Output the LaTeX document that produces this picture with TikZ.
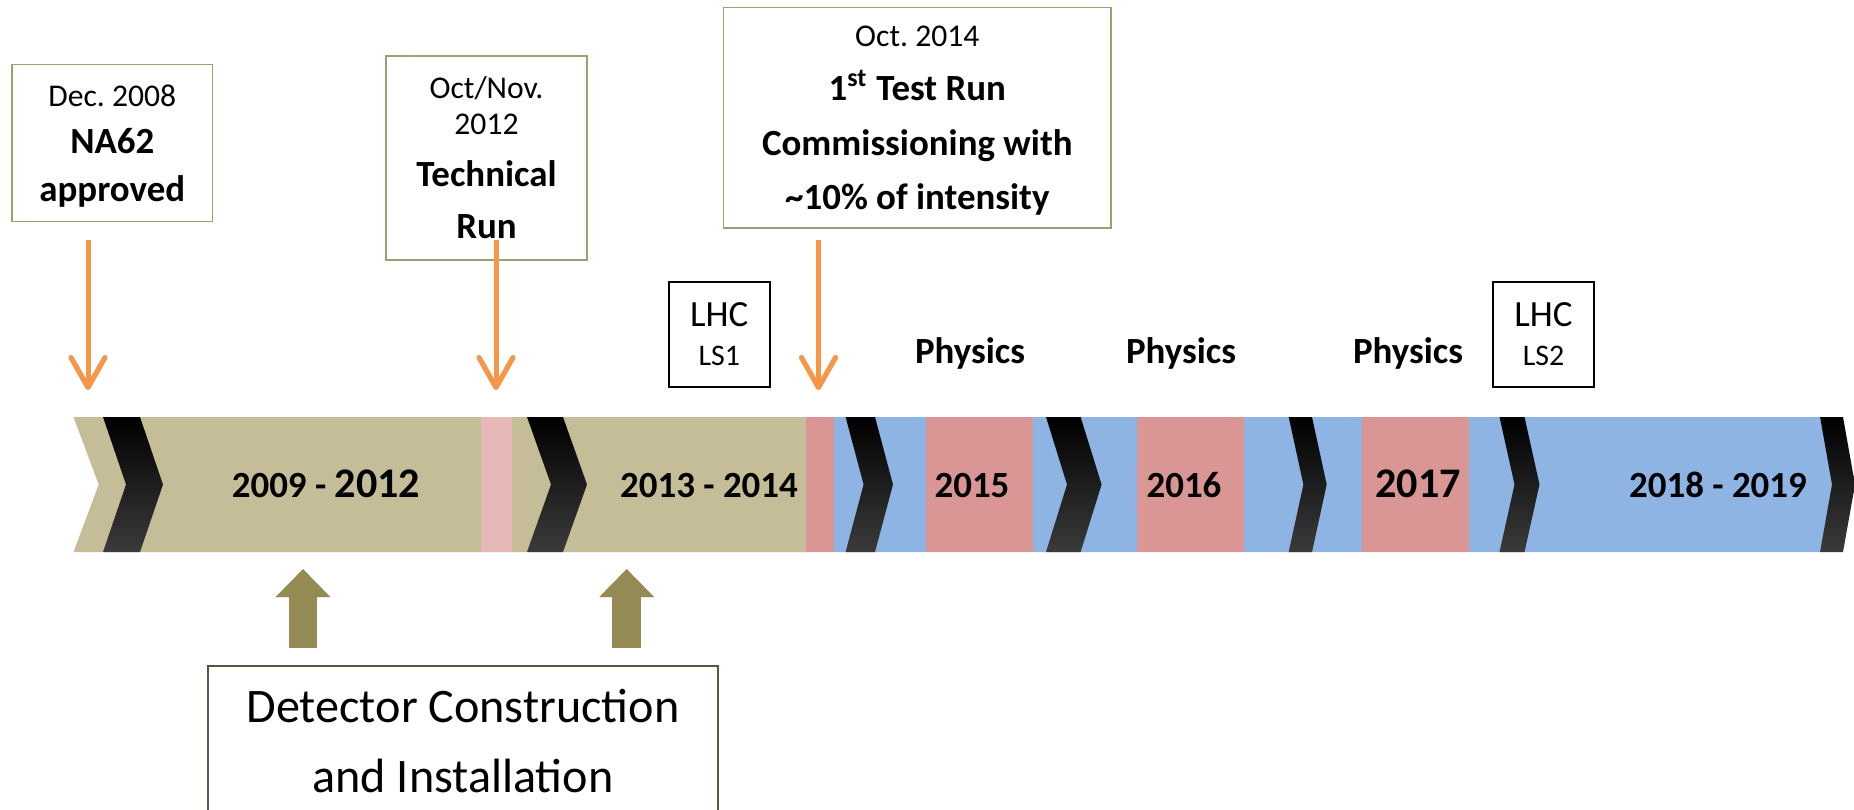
\documentclass[tikz,border=0pt]{standalone}
\usepackage{fontspec}
\setmainfont{Carlito}
\usetikzlibrary{arrows.meta}
\frenchspacing
\definecolor{bandtan}{HTML}{C4BD97}
\definecolor{bandblue}{HTML}{8EB4E3}
\definecolor{runpink}{HTML}{E6B9B8}
\definecolor{runred}{HTML}{D99694}
\definecolor{markorange}{HTML}{F79646}
\definecolor{buildolive}{HTML}{948A54}
\definecolor{boxolive}{HTML}{A49C72}
\definecolor{detline}{HTML}{5A563C}
\newcommand{\datepart}[2][5.8pt]{{\mdseries\fontsize{9}{11}\selectfont\rule{0pt}{#1}#2}}

\begin{document}
\begin{tikzpicture}[x=0.1mm,y=-0.1mm,
  datebox/.style={draw=boxolive,line width=0.4pt,inner sep=0pt,align=center,font=\fontsize{10.5}{14.8}\selectfont\bfseries},
  lsbox/.style={draw=black,line width=0.6pt,minimum width=10.05mm,minimum height=10.5mm,inner sep=0pt,align=center,font=\fontsize{10.5}{11.2}\selectfont},
  yearlabel/.style={anchor=base,inner sep=0pt,font=\fontsize{10.5}{12}\selectfont\bfseries},
  physlabel/.style={anchor=base,inner sep=0pt,font=\fontsize{10.5}{12}\selectfont\bfseries},
  markarrow/.style={markorange,line width=0.5mm,-{Straight Barb[length=3mm,width=3.4mm,round]}},
  buildarrow/.style={buildolive,line width=2.85mm,-{Triangle[length=2.8mm,width=5.3mm]}},
  arrowshadow/.style={black,opacity=0.22,shift={(2,6)}}]
  \useasboundingbox (0,0) rectangle (1854,809);
  \clip (0,0) rectangle (1854,809);
  \fill[bandblue] (802,417) -- (1820,417) -- (1833,484.5) -- (1820,552) -- (802,552) -- cycle;
  \fill[bandtan] (73.5,417) -- (806,417) -- (806,552) -- (73.5,552) -- (98.7,484.5) -- cycle;
  \fill[runpink] (481,417) rectangle (512,552);
  \foreach \a/\b in {806/834,925.6/1032.7,1137/1243.5,1362/1469}
    \fill[runred] (\a,417) rectangle (\b,552);
  \foreach \x/\w/\d in {103/37/23,527/36/24,845.6/29.4/18,1046/34.6/21,1288.7/23.3/14.7,1499.5/25/15,1820/23/12}
    \shade[top color=black,bottom color=black!77] (\x,417) -- ++(\w,0) -- ++(\d,67.5) -- ++(-\d,67.5) -- ++(-\w,0) -- ++(\d,-67.5) -- cycle;
  \node[yearlabel] (y0912) at (326,497.5) {2009 - {\fontsize{12}{14}\selectfont 2012}};
  \node[yearlabel] (y1314) at (709,497.5) {2013 - 2014};
  \node[yearlabel] (y15) at (972,497.5) {2015};
  \node[yearlabel] (y16) at (1184,497.5) {2016};
  \node[yearlabel,font=\fontsize{12}{14}\selectfont\bfseries] (y17) at (1418,497.5) {2017};
  \node[yearlabel] (y1819) at (1718,497.5) {2018 - 2019};
  \foreach \n/\x in {phys15/970,phys16/1181,phys17/1408}
    \node[physlabel] (\n) at (\x,363) {Physics};
  \node[lsbox] (ls1) at (719.3,334.2) {LHC\\{\fontsize{8.5}{10}\selectfont LS1}};
  \node[lsbox] (ls2) at (1543.5,334.2) {LHC\\{\fontsize{8.5}{10}\selectfont LS2}};
  \node[datebox,minimum width=20.08mm,minimum height=15.74mm,font=\fontsize{10.5}{13.5}\selectfont\bfseries] (na62) at (112.3,143)
    {\datepart[7.8pt]{Dec. 2008}\\NA62\\approved};
  \node[datebox,minimum width=20.1mm,minimum height=20.4mm] (techrun) at (486.5,158)
    {\datepart{Oct/Nov.}\\[-4.6pt]\datepart{2012}\\Technical\\Run};
  \node[datebox,minimum width=38.74mm,minimum height=22.07mm,font=\fontsize{10.5}{15.4}\selectfont\bfseries] (testrun) at (917.3,117.7)
    {\datepart[7.5pt]{Oct. 2014}\\1\textsuperscript{st} Test Run\\Commissioning with\\\textasciitilde10\% of intensity};
  \foreach \n/\x in {na62/88,techrun/496,testrun/818.5} {
    \coordinate (\n top) at (\x,240);
    \coordinate (\n tip) at (\x,390);
    \draw[markarrow,arrowshadow] (\n top) -- (\n tip);
    \draw[markarrow] (\n top) -- (\n tip);
  }
  \node[draw=detline,line width=0.5pt,minimum width=51mm,minimum height=16.5mm,anchor=north,inner sep=0pt] (detbox) at (463,665) {};
  \node[align=center,font=\fontsize{13.7}{20.1}\selectfont] (dettext) at (463,741) {Detector Construction\\and Installation};
  \foreach \n/\x in {build1/303,build2/626.7} {
    \coordinate (\n foot) at (\x,648);
    \coordinate (\n head) at (\x,569);
    \draw[buildarrow,arrowshadow] (\n foot) -- (\n head);
    \draw[buildarrow] (\n foot) -- (\n head);
  }
\end{tikzpicture}
\end{document}
